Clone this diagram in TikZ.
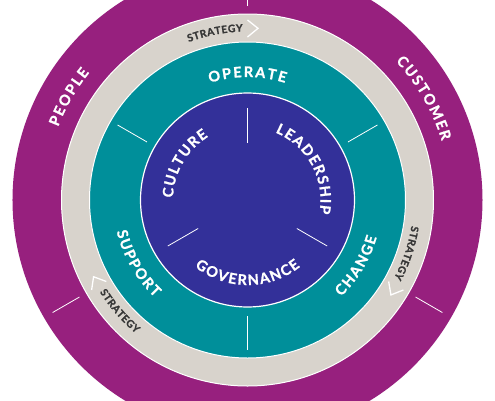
\documentclass[tikz,border=0pt]{standalone}
\usepackage{fontspec}
\setmainfont{Lato}[BoldFeatures={FakeBold=1.2}]

\definecolor{ringpurple}{RGB}{151,32,126}
\definecolor{ringgray}{RGB}{216,211,204}
\definecolor{ringteal}{RGB}{0,143,154}
\definecolor{coreblue}{RGB}{51,48,153}
\definecolor{stratgray}{RGB}{55,55,55}

% inside the picture the font is \nullfont: call the selected font by hand
\makeatletter
\newcommand\forcefont{\font@name}
\makeatother
\newcommand\bigword{\bfseries\fontsize{14.5}{14.5}\selectfont\forcefont\color{white}}
\newcommand\smallword{\bfseries\fontsize{10.3}{10.3}\selectfont\forcefont\color{stratgray}}

% letters of a word set one by one along an arc
\newdimen\wordwidth
\newdimen\wordpos
\newdimen\charwidth
\newcommand\arcword[6]{% #1 format, #2 tracking, #3 centre angle, #4 baseline radius, #5 1 = clockwise / -1 = anticlockwise, #6 letters
  \global\wordwidth=-#2pt
  \foreach \ch in {#6} {\setbox0\hbox{#1\ch}\global\advance\wordwidth by \wd0 \global\advance\wordwidth by #2pt}
  \global\wordpos=0pt
  \foreach \ch in {#6} {
    \setbox0\hbox{#1\ch}\charwidth=\wd0
    \pgfmathsetmacro\chang{#3+(#5)*(0.5*\wordwidth-\wordpos-0.5*\charwidth)/#4*180/pi}
    \pgfmathsetmacro\chrot{\chang-(#5)*90}
    \node[rotate=\chrot, anchor=base, inner sep=0pt] at (\chang:#4) {#1\ch};
    \global\advance\wordpos by \charwidth \global\advance\wordpos by #2pt
  }
}

\begin{document}
\begin{tikzpicture}[x=1pt, y=1pt,
    divider/.style={white, line width=0.8pt},
    chevron/.style={white, line width=1.3pt}]
  \useasboundingbox (-247.5,-200) rectangle (247.5,200);
  \fill[white] (-247.5,-200) rectangle (247.5,200);
  \clip (-247.5,-200) rectangle (247.5,200);
  % rings
  \fill[ringpurple] (0,0) circle (235);
  \filldraw[ringgray, draw=white, line width=1pt] (0,0) circle (186);
  \filldraw[ringteal, draw=white, line width=1pt] (0,0) circle (158);
  \filldraw[coreblue, draw=white, line width=1.2pt] (0,0) circle (107);
  % spokes and strategy arrows
  \foreach \a in {90,210,330} {
    \draw[divider] (\a:57) -- (\a:92);
    \draw[divider] (\a+60:116) -- (\a+60:150);
    \draw[divider] (\a:194) -- (\a:225);
    \draw[chevron] (\a:180) -- (\a-3.5:172) -- (\a:163);
  }
  % outer ring
  \arcword{\bigword}{1.8}{150}{203}{1}{P,E,O,P,L,E}
  \arcword{\bigword}{1.8}{30}{203}{1}{C,U,S,T,O,M,E,R}
  % strategy ring
  \arcword{\smallword}{0.5}{101}{168.5}{1}{S,T,R,A,T,E,G,Y}
  \arcword{\smallword}{0.5}{341.5}{166}{1}{S,T,R,A,T,E,G,Y}
  \arcword{\smallword}{0.5}{221}{174}{-1}{S,T,R,A,T,E,G,Y}
  % middle ring
  \arcword{\bigword}{1.8}{90}{123}{1}{O,P,E,R,A,T,E}
  \arcword{\bigword}{1.8}{210}{134.5}{-1}{S,U,P,P,O,R,T}
  \arcword{\bigword}{1.8}{329}{134.5}{-1}{C,H,A,N,G,E}
  % core
  \arcword{\bigword}{1.4}{150}{74.5}{1}{C,U,L,T,U,R,E}
  \arcword{\bigword}{1.4}{28.5}{73}{1}{L,E,A,D,E,R,S,H,I,P}
  \arcword{\bigword}{1.5}{270}{85}{-1}{G,O,V,E,R,N,A,N,C,E}
\end{tikzpicture}
\end{document}
